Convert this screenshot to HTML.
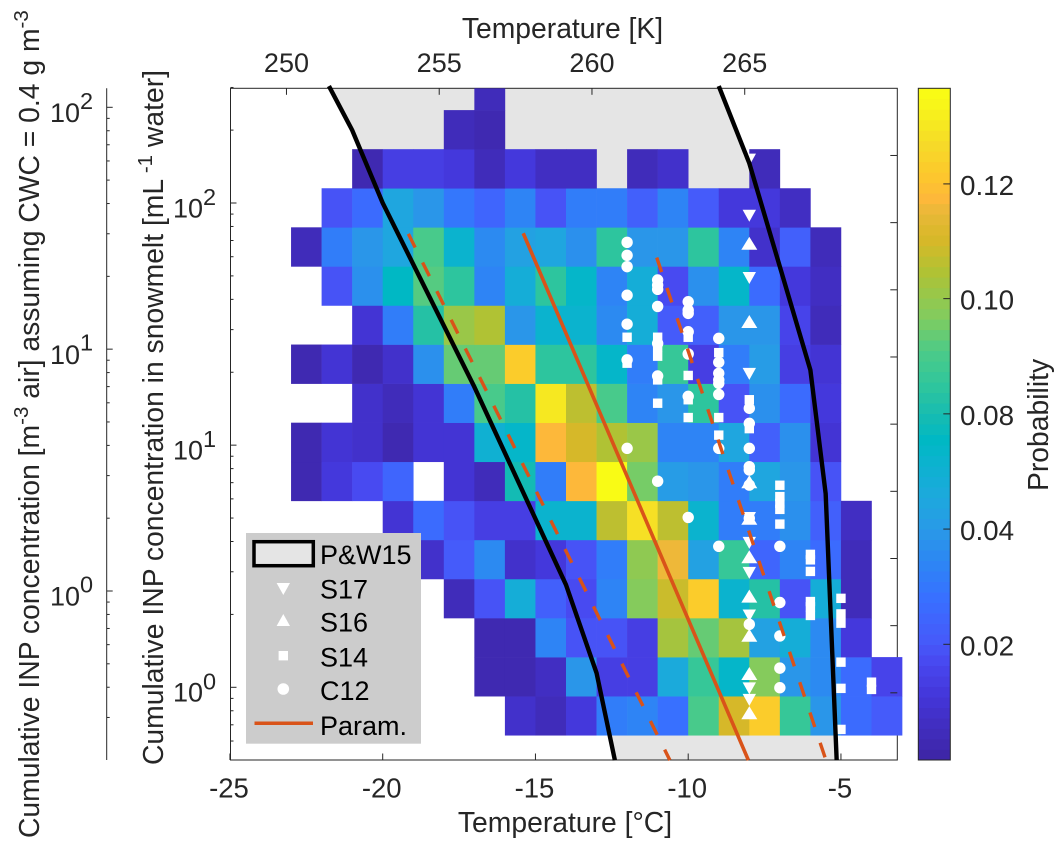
<!DOCTYPE html>
<html lang="en">
<head>
<meta charset="utf-8">
<title>INP concentration probability chart</title>
<style>
html,body{margin:0;padding:0;background:#fff;}
svg{display:block;}
text{font-family:"Liberation Sans",sans-serif;fill:#262626;}
</style>
</head>
<body>
<svg id="chart" xmlns="http://www.w3.org/2000/svg" width="1063" height="848" viewBox="0 0 1063 848">
  <defs><clipPath id="plot-clip"><rect x="230.5" y="88.3" width="666.8" height="671.7"/></clipPath></defs>
  <g id="layer-plot"></g>
  <g id="layer-axes"></g>

  <text x="562.5" y="38" text-anchor="middle" font-size="28.3">Temperature [K]</text>
  <text x="565" y="832" text-anchor="middle" font-size="28.3">Temperature [°C]</text>
  <text transform="translate(39,838) rotate(-90)" font-size="28.3">Cumulative INP concentration [m<tspan dy="-11" font-size="20.5">-3</tspan><tspan dy="11"> air] assuming CWC = 0.4 g m</tspan><tspan dy="-11" font-size="20.5">-3</tspan></text>
  <text transform="translate(163,765) rotate(-90)" font-size="28.3">Cumulative INP concentration in snowmelt [mL<tspan dy="-11" font-size="20.5"> -1</tspan><tspan dy="11">  water]</tspan></text>
  <text transform="translate(1048,491) rotate(-90)" font-size="28.3">Probability</text>

  <g>
    <rect x="246" y="533" width="175" height="210.7" fill="#cccccc"/>
    <rect x="254" y="541.7" width="59.3" height="24" fill="#e5e5e5" stroke="#000" stroke-width="3.5"/>
    <text x="320" y="564" font-size="27" fill="#000" style="fill:#000">P&amp;W15</text>
    <polygon points="276.6,583 290,583 283.3,595" fill="#fff"/>
    <text x="320" y="598.3" font-size="27" style="fill:#000">S17</text>
    <polygon points="276.6,626 290,626 283.3,614" fill="#fff"/>
    <text x="320" y="631.7" font-size="27" style="fill:#000">S16</text>
    <rect x="278.6" y="651" width="9.4" height="9.4" fill="#fff"/>
    <text x="320" y="666.7" font-size="27" style="fill:#000">S14</text>
    <circle cx="283.3" cy="689" r="5.8" fill="#fff"/>
    <text x="320" y="700" font-size="27" style="fill:#000">C12</text>
    <line x1="254.5" y1="723.3" x2="313" y2="723.3" stroke="#d95319" stroke-width="3.5"/>
    <text x="320" y="735" font-size="27" style="fill:#000">Param.</text>
  </g>
</svg>
<script>
// ---- heatmap data: one array per concentration bin, columns are temperature bins ----
const n = null;
const tempBinStarts = [-23,-22,-21,-20,-19,-18,-17,-16,-15,-14,-13,-12,-11,-10,-9,-8,-7,-6,-5,-4];
const bin00 = [n,n,n,n,n,n,n,.009,.006,.014,.037,.039,.034,.083,.106,.12,.079,.046,.032,.024];
const bin01 = [n,n,n,n,n,n,.003,.003,.007,.046,.017,.017,.054,.078,.063,.091,.047,.041,.032,.019];
const bin02 = [n,n,n,n,n,n,.004,.004,.039,.0235,.0235,.017,.097,.086,.098,.05,.057,.041,.014,n];
const bin03 = [n,n,n,n,n,.006,.0235,.057,.026,.021,.039,.09,.104,.121,.062,.073,.0235,.057,.005,n];
const bin04 = [n,n,n,.01,.009,.025,.042,.009,.014,.0235,.037,.093,.112,.05,.079,.029,.039,.032,.006,n];
const bin05 = [n,n,n,.011,.032,.0235,.017,.017,.061,.061,.102,.127,.102,.061,.038,.038,.043,.026,.007,n];
const bin06 = [.004,.014,.021,.029,n,.011,.006,.07,.037,.115,.137,.088,.049,.047,.037,.053,.046,.0235,n,n];
const bin07 = [.004,.012,.01,.004,.011,.012,.059,.063,.115,.107,.1,.095,.039,.039,.052,.026,.044,.012,n,n];
const bin08 = [n,n,.01,.006,.012,.037,.082,.073,.13,.102,.082,.039,.046,.075,.022,.044,.032,.014,n,n];
const bin09 = [.003,.012,.004,.01,.043,.087,.087,.12,.075,.075,.063,.037,.078,.017,.037,.049,.017,.012,n,n];
const bin10 = [n,n,.011,.037,.073,.095,.1,.046,.061,.062,.042,.057,.025,.026,.046,.046,.019,.005,n,n];
const bin11 = [n,.0235,.043,.066,.084,.077,.039,.057,.077,.064,.039,.057,.021,.044,.064,.032,.014,.007,n,n];
const bin12 = [.005,.037,.046,.053,.083,.062,.042,.05,.052,.043,.077,.047,.047,.077,.039,.01,.026,.005,n,n];
const bin13 = [n,.0235,.03,.053,.046,.035,.028,.039,.0235,.038,.038,.027,.039,.025,.014,.014,.007,n,n,n];
const bin14 = [n,n,.004,.015,.016,.014,.006,.014,.007,.007,n,.005,.009,n,n,.005,n,n,n,n];
const bin15 = [n,n,n,n,n,.005,.003,n,n,n,n,n,n,n,n,n,n,n,n,n];
const bin16 = [n,n,n,n,n,n,.005,n,n,n,n,n,n,n,n,n,n,n,n,n];
const probabilityBins = [bin00,bin01,bin02,bin03,bin04,bin05,bin06,bin07,bin08,bin09,bin10,bin11,bin12,bin13,bin14,bin15,bin16];

// ---- line series ----
const pw15ColdTemp = [-21.76,-21,-20,-17,-14,-13,-12.4];
const pw15ColdConc = [304,200,100,17.4,2.65,1.146,.5];
const pw15WarmTemp = [-9,-8,-6,-5.5,-5.14];
const pw15WarmConc = [304,146,20.4,6.3,.5];
const paramTemp = [-15.4,-8.03];
const paramConc = [75,.5];
const paramLowTemp = [-19.16,-10.6];
const paramLowConc = [74.6,.5];
const paramHighTemp = [-11.03,-5.49];
const paramHighConc = [59.5,.5];

// ---- marker series ----
const c12Temp = [-12,-12,-12,-12,-12,-12,-12,-11,-11,-11,-11,-11,-11,-11,-10,-10,-10,-10,-10,-10,-10,-9,-9,-9,-9,-9,-9,-9,-9,-8,-8,-8,-8,-8,-8,-8,-8,-7,-7,-7,-7,-7];
const c12Conc = [68.8,60.8,54.6,41.6,31.6,22.5,9.7,48.1,45.8,44,37.4,26.3,19.3,7.1,39.1,36.1,35,29.4,23.8,15.9,5.03,27.6,22,19.8,18.6,18,16.2,9.7,3.82,14.2,12.3,9.7,8.15,7.9,6.84,4.99,1.82,3.82,2.24,1.63,1.2,.996];
const s14Temp = [-12,-12,-11,-11,-11,-11,-11,-10,-10,-10,-10,-9,-9,-9,-8,-8,-7,-7,-7,-7,-7,-6,-6,-6,-6,-6,-6,-5,-5,-5,-5,-5,-5,-4,-4];
const s14Conc = [27.9,21.8,27.9,25.4,23.3,18.6,14.9,27.9,19.4,15.4,13,24.1,13,11,15.4,11.7,6.83,6.13,5.75,5.43,4.72,3.54,3.36,3.01,2.26,2.15,1.98,2.33,2.01,1.84,1.27,.99,.67,1.05,.98];
const s17Temp = [-8,-8,-8,-8,-8,-8,-8,-8,-8,-8];
const s17Conc = [151,88.6,49,19.7,5,3.95,2.97,1.98,.99,.887];
const s16Temp = [-8,-8,-8,-8,-8,-8,-8,-8,-8];
const s16Conc = [68.2,32.4,7.06,4.99,3.46,2.38,1.64,1.14,.785];

// ---- axis tick data ----
const xTickValues = [-25,-20,-15,-10,-5];
const xTickLabels = ['-25','-20','-15','-10','-5'];
const kelvinTickValues = [250,255,260,265];
const kelvinTickLabels = ['250','255','260','265'];
const yMajorTicks = [1,10,100];
const yMajorExponents = ['0','1','2'];
const yMinorTicks = [.6,.7,.8,.9,2,3,4,5,6,7,8,9,20,30,40,50,60,70,80,90,200,300];
const airMajorTicks = [1,10,100];
const airMajorExponents = ['0','1','2'];
const airMinorTicks = [.3,.4,.5,.6,.7,.8,.9,2,3,4,5,6,7,8,9,20,30,40,50,60,70,80,90];
const colorbarTickValues = [.0236,.0471,.0706,.0941,.1175];
const colorbarTickLabels = ['0.02','0.04','0.08','0.10','0.12'];
const colorbarMax = .137;
const rightTickFractions = [.1,.2,.3,.4,.5,.6,.7,.8,.9];

// ---- scales ----
const plotLeft = 230.5, plotRight = 897.3, plotTop = 88.3, plotBottom = 760;
function xScale(t){ return 382.7 + 30.55 * (t + 20); }
function yScale(v){ return 687.3 - 242.15 * Math.log10(v); }
function airScale(v){ return 591 - 241.85 * Math.log10(v); }
function binLowerLog(i){ return -0.198 + 0.16135 * i; }
const cbLeft = 918.3, cbRight = 950.3, cbTop = 88.3, cbBottom = 760;
function cbScale(v){ return cbBottom - (cbBottom - cbTop) * v / colorbarMax; }

const cmapStops = [0,.09,.14,.172,.238,.288,.338,.387,.437,.476,.516,.561,.61,.66,.73,.78,.82,.84,.878,.927,.978,1];
const cmapR = [62,68,72,70,56,45,42,30,13,0,24,48,76,128,176,216,232,253,253,245,248,249];
const cmapG = [38,54,72,90,112,133,152,168,178,184,188,198,203,204,194,184,184,183,200,220,244,251];
const cmapB = [168,218,240,250,255,245,232,222,208,196,176,156,136,96,52,40,56,58,44,40,26,21];
function cmap(v){
  let t = Math.max(0, Math.min(1, v / colorbarMax));
  t = Math.min(63, Math.floor(t * 64)) / 63;
  let i = 0;
  while (i < cmapStops.length - 2 && t > cmapStops[i + 1]) i++;
  const f = (t - cmapStops[i]) / (cmapStops[i + 1] - cmapStops[i]);
  const c = a => Math.round(a[i] + (a[i + 1] - a[i]) * f);
  return 'rgb(' + c(cmapR) + ',' + c(cmapG) + ',' + c(cmapB) + ')';
}

const SVGNS = 'http://www.w3.org/2000/svg';
function mk(tag, parent, props){
  const e = document.createElementNS(SVGNS, tag);
  for (const k in props) e.setAttribute(k, props[k]);
  parent.appendChild(e);
  return e;
}
function pts(ts, cs){ return ts.map((t, i) => xScale(t).toFixed(2) + ',' + yScale(cs[i]).toFixed(2)); }

const plot = document.getElementById('layer-plot');
const axes = document.getElementById('layer-axes');
let el;

// gray P&W15 envelope
const coldPts = pts(pw15ColdTemp, pw15ColdConc);
const warmPts = pts(pw15WarmTemp, pw15WarmConc).reverse();
el = mk('polygon', plot, {points: coldPts.concat(warmPts).join(' '), fill: '#e5e5e5', 'clip-path': 'url(#plot-clip)'});



// axes box
el = mk('rect', plot, {x: plotLeft, y: plotTop, width: plotRight - plotLeft, height: plotBottom - plotTop, fill: 'none', stroke: '#262626', 'stroke-width': 1});



// heatmap cells
probabilityBins.forEach(function(row, r){
  row.forEach(function(val, c){
    if (val === null) return;
    const x0 = xScale(tempBinStarts[c]);
    const x1 = xScale(tempBinStarts[c] + 1);
    let yTop = yScale(Math.pow(10, binLowerLog(r + 1)));
    const yBot = yScale(Math.pow(10, binLowerLog(r)));
    yTop = Math.max(yTop, plotTop);
    const cell = mk('rect', plot, {x: x0.toFixed(2), y: yTop.toFixed(2), width: (x1 - x0 + .3).toFixed(2), height: (yBot - yTop + .3).toFixed(2), fill: cmap(val)});
    
    
  });
});

// markers
c12Temp.forEach(function(t, i){
  const m = mk('circle', plot, {cx: xScale(t).toFixed(2), cy: yScale(c12Conc[i]).toFixed(2), r: 5.7, fill: '#fff'});
  
  
});
s14Temp.forEach(function(t, i){
  const m = mk('rect', plot, {x: (xScale(t) - 4.7).toFixed(2), y: (yScale(s14Conc[i]) - 4.7).toFixed(2), width: 9.4, height: 9.4, fill: '#fff'});
  
  
});
s17Temp.forEach(function(t, i){
  const x = xScale(t), y = yScale(s17Conc[i]);
  const m = mk('polygon', plot, {points: (x - 6.7) + ',' + (y - 6) + ' ' + (x + 6.7) + ',' + (y - 6) + ' ' + x + ',' + (y + 6), fill: '#fff'});
  
  
});
s16Temp.forEach(function(t, i){
  const x = xScale(t), y = yScale(s16Conc[i]);
  const m = mk('polygon', plot, {points: (x - 8) + ',' + (y + 6.5) + ' ' + (x + 8) + ',' + (y + 6.5) + ' ' + x + ',' + (y - 6.5), fill: '#fff'});
  
  
});

// lines
el = mk('polyline', plot, {points: pts(paramLowTemp, paramLowConc).join(' '), fill: 'none', stroke: '#d95319', 'stroke-width': 3.4, 'stroke-dasharray': '15.3 16.7'});


el = mk('polyline', plot, {points: pts(paramHighTemp, paramHighConc).join(' '), fill: 'none', stroke: '#d95319', 'stroke-width': 3.4, 'stroke-dasharray': '15.3 16.7'});


el = mk('polyline', plot, {points: pts(paramTemp, paramConc).join(' '), fill: 'none', stroke: '#d95319', 'stroke-width': 3.6});


el = mk('polyline', plot, {points: pts(pw15ColdTemp, pw15ColdConc).join(' '), fill: 'none', stroke: '#000', 'stroke-width': 4.4, 'stroke-linejoin': 'round'});


el = mk('polyline', plot, {points: pts(pw15WarmTemp, pw15WarmConc).join(' '), fill: 'none', stroke: '#000', 'stroke-width': 4.4, 'stroke-linejoin': 'round'});



// tick helper
function tick(x1, y1, x2, y2, name){
  const t = mk('line', axes, {x1: x1, y1: y1, x2: x2, y2: y2, stroke: '#262626', 'stroke-width': 1});
  
  
}
function label(x, y, txt, anchor, size, name){
  const t = mk('text', axes, {x: x, y: y, 'text-anchor': anchor, 'font-size': size});
  t.textContent = txt;
  
  
}

// bottom x axis
xTickValues.forEach(function(v, i){
  const x = xScale(v);
  tick(x, plotBottom, x, plotBottom - 6.5, 'x-axis-tick');
  label(x - 1, 797.7, xTickLabels[i], 'middle', 27.5, 'x-axis-tick-label');
});
// top kelvin axis
kelvinTickValues.forEach(function(v, i){
  const x = xScale(v - 273.15);
  tick(x, plotTop, x, plotTop + 6.5, 'top-axis-tick');
  label(x, 72, kelvinTickLabels[i], 'middle', 27, 'top-axis-tick-label');
});
// main y axis
yMajorTicks.forEach(function(v, i){
  const y = yScale(v);
  tick(plotLeft, y, plotLeft + 6, y, 'y-axis-major-tick');
  label(203, y + 14.4, '10', 'end', 27, 'y-axis-tick-label');
  label(203, y + 2, yMajorExponents[i], 'start', 23.5, 'y-axis-tick-exponent');
});
yMinorTicks.forEach(function(v){
  const y = yScale(v);
  tick(plotLeft, y, plotLeft + 3, y, 'y-axis-minor-tick');
});
// right ticks
rightTickFractions.forEach(function(f){
  const y = plotBottom - (plotBottom - plotTop) * f;
  tick(plotRight, y, plotRight - 7, y, 'right-axis-tick');
});
// air concentration axis
tick(106.7, plotTop, 106.7, plotBottom, 'air-axis-line');
airMajorTicks.forEach(function(v, i){
  const y = airScale(v);
  tick(106.7, y, 112.7, y, 'air-axis-major-tick');
  label(80, y + 14.6, '10', 'end', 27, 'air-axis-tick-label');
  label(80, y + 1.5, airMajorExponents[i], 'start', 23.5, 'air-axis-tick-exponent');
});
airMinorTicks.forEach(function(v){
  const y = airScale(v);
  tick(106.7, y, 109.7, y, 'air-axis-minor-tick');
});

// colorbar
const levels = 64;
for (let k = 0; k < levels; k++) {
  const v0 = colorbarMax * k / levels;
  const v1 = colorbarMax * (k + 1) / levels;
  const seg = mk('rect', axes, {x: cbLeft, y: cbScale(v1).toFixed(2), width: cbRight - cbLeft, height: (cbScale(v0) - cbScale(v1) + .4).toFixed(2), fill: cmap((v0 + v1) / 2)});
  
  
}
el = mk('rect', axes, {x: cbLeft, y: cbTop, width: cbRight - cbLeft, height: cbBottom - cbTop, fill: 'none', stroke: '#262626', 'stroke-width': 1});


colorbarTickValues.forEach(function(v, i){
  const y = cbScale(v);
  tick(cbRight, y, cbRight - 7, y, 'colorbar-tick');
  label(960, y + 11, colorbarTickLabels[i], 'start', 27.8, 'colorbar-tick-label');
});
</script>
</body>
</html>
